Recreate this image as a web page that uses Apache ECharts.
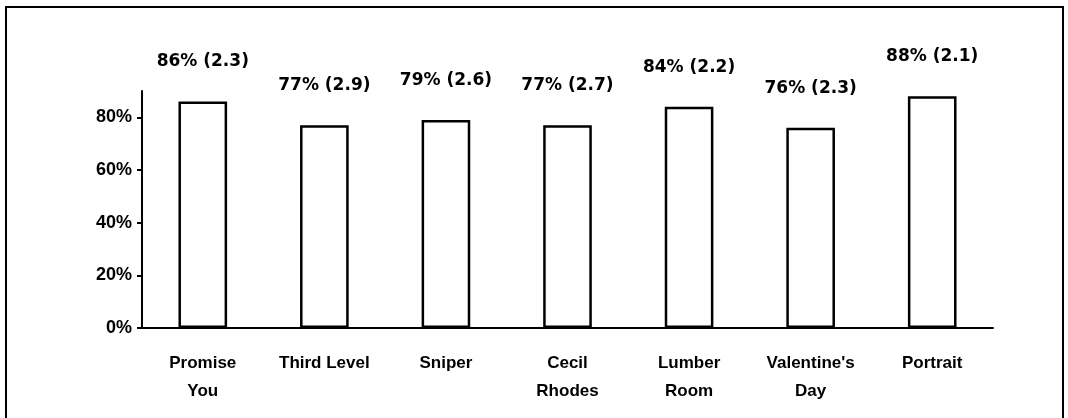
<!DOCTYPE html>
<html>
<head>
<meta charset="utf-8">
<script src="https://cdn.jsdelivr.net/npm/echarts@6/dist/echarts.min.js"></script>
<style>
  html, body { margin: 0; padding: 0; background: #fff; }
  #chart { width: 1068px; height: 418px; }
</style>
</head>
<body>
<div id="chart"></div>
<script>
// Stories rated, share of readers who liked each, with mean score in brackets
const categories = ['Promise\nYou', 'Third Level', 'Sniper', 'Cecil\nRhodes', 'Lumber\nRoom', "Valentine's\nDay", 'Portrait'];
const percentLiked = [86, 77, 79, 77, 84, 76, 88];
const meanScore = ['2.3', '2.9', '2.6', '2.7', '2.2', '2.3', '2.1'];
const yTicks = [0, 20, 40, 60, 80];

const narrow = '"Liberation Sans Narrow", "Liberation Sans", Arial, sans-serif';
const chart = echarts.init(document.getElementById('chart'), null, { renderer: 'canvas' });

chart.setOption({
  backgroundColor: '#ffffff',
  animation: false,
  grid: { left: 142, right: 75, top: 91, bottom: 90 },
  xAxis: {
    type: 'category',
    data: categories,
    axisLine: { lineStyle: { color: '#000', width: 2 } },
    axisTick: { show: false },
    axisLabel: {
      color: '#000',
      fontFamily: narrow,
      fontWeight: 'bold',
      fontSize: 17,
      lineHeight: 28,
      margin: 21,
      interval: 0
    }
  },
  yAxis: {
    type: 'value',
    min: 0,
    max: 90,
    interval: 20,
    splitLine: { show: false },
    axisLine: { show: true, lineStyle: { color: '#000', width: 2 } },
    axisTick: {
      show: true, length: 5,
      lineStyle: { color: '#000', width: 2 },
      customValues: yTicks
    },
    axisLabel: {
      color: '#000',
      fontFamily: narrow,
      fontWeight: 'bold',
      fontSize: 18,
      margin: 10,
      customValues: yTicks,
      formatter: v => v + '%'
    }
  },
  series: [{
    type: 'bar',
    data: percentLiked,
    barWidth: '40%',
    itemStyle: { color: '#ffffff', borderColor: '#000', borderWidth: 2.5 },
    label: {
      show: true,
      position: 'top',
      distance: 31,
      color: '#000',
      fontFamily: '"DejaVu Sans", sans-serif',
      fontWeight: 'bold',
      fontSize: 17,
      formatter: p => percentLiked[p.dataIndex] + '% (' + meanScore[p.dataIndex] + ')'
    }
  }],
  graphic: [{
    type: 'polyline',
    silent: true,
    shape: { points: [[6, 420], [6, 7], [1063, 7], [1063, 420]] },
    style: { stroke: '#000', lineWidth: 2, fill: null }
  }]
});
</script>
</body>
</html>
